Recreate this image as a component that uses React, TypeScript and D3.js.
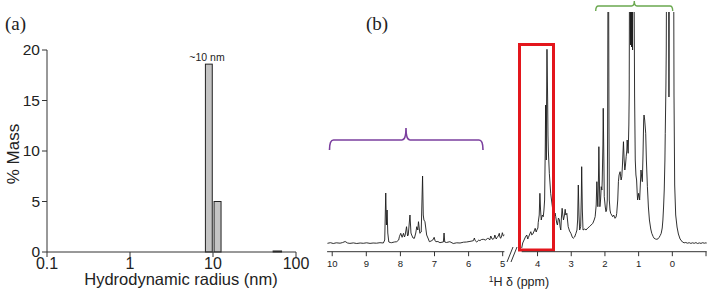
import React from "react";
import * as d3 from "d3";

// ---------- Panel (a): DLS histogram ----------
const binStart = [8.1, 10.3, 53];
const binEnd = [9.8, 12.5, 67];
const massPct = [18.6, 5.0, 0.1];
const massTicks = [0, 5, 10, 15, 20];
const radiusTicks = [0.1, 1, 10, 100];
const radiusTickLabels = ["0.1", "1", "10", "100"];

// ---------- Panel (b): 1H NMR spectrum ----------
const leftPpm = [
  10.14, 10.05, 9.97, 9.88, 9.77, 9.7, 9.62, 9.55, 9.48, 9.38, 9.28, 9.18, 9.09, 8.99, 8.89, 8.8, 8.7, 8.6, 8.5,
  8.46, 8.43, 8.41, 8.39, 8.37, 8.34, 8.3, 8.26, 8.18, 8.11, 8.05, 8.03, 7.99, 7.95, 7.91, 7.88, 7.86, 7.82,
  7.79, 7.77, 7.72, 7.69, 7.67, 7.63, 7.59, 7.55, 7.52, 7.49, 7.47, 7.43, 7.39, 7.35, 7.33, 7.31, 7.28, 7.23,
  7.18, 7.15, 7.1, 7.05, 7.01, 6.98, 6.96, 6.9, 6.84, 6.78, 6.74, 6.72, 6.7, 6.65, 6.55, 6.45, 6.35, 6.25,
  6.15, 6.06, 5.96, 5.86, 5.83, 5.81, 5.76, 5.7, 5.67, 5.62, 5.57, 5.5, 5.45, 5.42, 5.38, 5.35, 5.31, 5.28,
  5.25, 5.23, 5.19, 5.16, 5.13, 5.1, 5.08, 5.06, 5.03, 5.01, 4.98, 4.95,
];
const leftIntensity = [
  1.7, 2.3, 1.5, 2.2, 1.8, 2.4, 3.5, 2.0, 1.6, 2.1, 1.5, 2.0, 1.7, 2.2, 1.6, 2.0, 1.8, 2.3, 2.0,
  5, 52, 20, 35, 12, 3, 2.5, 2.3, 3, 3.3, 5, 8.3, 11.7, 7.7, 11.7, 8, 10, 18.3,
  9, 10, 30, 12, 10, 7, 6.7, 12, 18.3, 15, 23.3, 11.7, 13, 69, 30, 25, 23.3, 10,
  6, 3.3, 4, 5, 7.7, 4, 3.3, 3.5, 2.3, 2.8, 3, 12, 3, 2.5, 3.3, 1.5, 2.2, 2.0,
  2.8, 3.0, 3.6, 4.3, 7, 4.5, 3.0, 5, 4.3, 5.5, 5.7, 5.0, 6.5, 6.7, 5, 9, 6, 5.7,
  7, 10, 6, 7.7, 9, 11.7, 8, 6.7, 9, 12.3, 9, 10,
];
const rightPpm = [
  4.47, 4.44, 4.4, 4.36, 4.32, 4.29, 4.27, 4.23, 4.2, 4.17, 4.14, 4.1, 4.07, 4.04, 4.02, 3.99, 3.98, 3.95,
  3.93, 3.91, 3.89, 3.86, 3.83, 3.81, 3.79, 3.77, 3.76, 3.75, 3.74, 3.73, 3.72, 3.71, 3.7, 3.69, 3.68, 3.65,
  3.61, 3.56, 3.53, 3.51, 3.48, 3.46, 3.43, 3.41, 3.38, 3.35, 3.33, 3.31, 3.29, 3.27, 3.25, 3.23, 3.2, 3.18,
  3.16, 3.13, 3.11, 3.09, 3.05, 3.01, 2.97, 2.94, 2.9, 2.86, 2.83, 2.81, 2.79, 2.77, 2.75, 2.72, 2.7, 2.69,
  2.67, 2.65, 2.6, 2.56, 2.51, 2.46, 2.41, 2.36, 2.32, 2.29, 2.26, 2.24, 2.22, 2.21, 2.19, 2.18, 2.16, 2.15,
  2.13, 2.11, 2.09, 2.08, 2.06, 2.05, 2.03, 2.02, 1.99, 1.97, 1.95, 1.93, 1.92, 1.9, 1.88, 1.87, 1.85, 1.83,
  1.8, 1.77, 1.74, 1.7, 1.67, 1.65, 1.62, 1.6, 1.58, 1.55, 1.52, 1.5, 1.48, 1.45, 1.43, 1.41, 1.39, 1.37,
  1.35, 1.34, 1.32, 1.31, 1.29, 1.28, 1.26, 1.24, 1.23, 1.21, 1.2, 1.18, 1.16, 1.14, 1.12, 1.1, 1.08, 1.06,
  1.04, 1.03, 1.0, 0.97, 0.95, 0.93, 0.91, 0.89, 0.87, 0.85, 0.84, 0.82, 0.79, 0.77, 0.74, 0.71, 0.68, 0.64,
  0.61, 0.57, 0.54, 0.5, 0.46, 0.42, 0.39, 0.36, 0.33, 0.3, 0.28, 0.26, 0.24, 0.22, 0.21, 0.19, 0.18, 0.16,
  0.12, 0.1, 0.08, 0.04, 0.0, -0.03, -0.05, -0.07, -0.1, -0.14, -0.18, -0.23, -0.3, -0.35, -0.4, -0.45, -0.5,
  -0.55, -0.6, -0.65, -0.7, -0.75, -0.8, -0.85, -0.9, -0.95, -1.0, -1.02,
];
const rightIntensity = [
  -3, 2, 5, 8, 10, 6, 7.7, 11, 13.3, 10, 11, 14, 16.7, 13, 15, 17, 22.3, 30,
  51.7, 35, 25, 30, 28.3, 35, 45, 100, 140, 110, 85, 150, 195.7, 170, 145, 110, 95, 71.7,
  51.7, 38.3, 30, 25, 32, 28.3, 22, 20, 27, 25, 18, 15, 28, 36.7, 30, 25, 30, 35.7,
  30, 31.7, 25, 18.3, 14, 11.7, 8, 6.7, 8, 11.7, 15, 25, 60, 30, 15, 18.3, 50, 78.3,
  35, 15, 16, 15, 17, 18.3, 20, 21.7, 25, 28.3, 40, 63.3, 45, 38.3, 70, 98.3, 55, 38.3,
  45, 58.3, 55, 65, 100, 136.7, 80, 48.3, 38, 33.3, 35, 45, 120, 400, 120, 45, 35, 31.7,
  30, 28.3, 30, 26.7, 28, 31.7, 45, 63.3, 70, 73.3, 65, 68.3, 80, 103.3, 85, 75, 80, 88.3,
  95, 105, 95, 91.7, 120, 150, 400, 200, 400, 198, 400, 195, 400, 300, 150, 85, 70, 65,
  50, 45, 51.7, 45, 60, 75, 68, 63.3, 90, 125, 130, 125, 111.7, 85, 58.3, 38, 25, 16,
  11.7, 8.5, 6.7, 6, 5.7, 6.3, 7.7, 9.5, 11.7, 17, 25, 38, 55, 85, 111.7, 160, 195, 400,
  400, 148, 400, 400, 400, 400, 150, 60, 30, 18, 11, 6, 3, 2.2, 2.5, 1.8, 2.3,
  1.6, 2.2, 1.7, 2.4, 1.5, 2.1, 1.6, 2.3, 1.8, 2.2, 1.9,
];
const leftTicks = [10, 9, 8, 7, 6, 5];
const rightTicks = [4, 3, 2, 1, 0, -1];
const rightTickLabels = ["4", "3", "2", "1", "0", ""];

const SANS = "'Liberation Sans', Arial, Helvetica, sans-serif";
const SERIF = "'Liberation Serif', 'Times New Roman', serif";

export default function App() {
  // Panel (a) scales
  const xA = d3.scaleLog().domain([0.1, 100]).range([47, 296]);
  const yA = d3.scaleLinear().domain([0, 20]).range([252, 50]);

  // Panel (b) scales
  const xL = d3.scaleLinear().domain([10.15, 4.95]).range([327.1, 504.4]);
  const xR = d3.scaleLinear().domain([4.47, -1.02]).range([521.7, 706.7]);
  const yS = d3.scaleLinear().domain([0, 233]).range([245, 12]);

  const leftPts: [number, number][] = leftPpm.map((p, i) => [p, leftIntensity[i]]);
  const rightPts: [number, number][] = rightPpm.map((p, i) => [p, rightIntensity[i]]);
  const lineL = d3.line<[number, number]>().x((d) => xL(d[0])).y((d) => yS(d[1]));
  const lineR = d3.line<[number, number]>().x((d) => xR(d[0])).y((d) => yS(d[1]));

  const axisY = 251.7;
  const textCol = "#222";
  const axisCol = "#333";

  return (
    <svg width={709} height={295} style={{ position: "absolute", left: 0, top: 0, background: "#fff" }}>
      <defs>
        <clipPath id="clipL">
          <rect x={324} y={12} width={184} height={240} />
        </clipPath>
        <clipPath id="clipR">
          <rect x={518} y={12} width={191} height={240} />
        </clipPath>
      </defs>

      {/* ================= Panel (a) ================= */}
      <text x={5} y={30} fontFamily={SERIF} fontSize={19} fill={textCol}>(a)</text>

      {binStart.map((s, i) => (
        <rect
          key={i}
          x={xA(s)}
          y={yA(massPct[i])}
          width={xA(binEnd[i]) - xA(s)}
          height={Math.max(yA(0) - yA(massPct[i]), 0.8)}
          fill="#c4c4c4"
          stroke="#222"
          strokeWidth={1}
        />
      ))}
      <text x={207} y={61} textAnchor="middle" fontFamily={SANS} fontSize={10.5} fill={textCol}>~10 nm</text>

      <line x1={47} x2={47} y1={yA(20)} y2={yA(0)} stroke={axisCol} strokeWidth={1} />
      <line x1={47} x2={296} y1={yA(0)} y2={yA(0)} stroke={axisCol} strokeWidth={1} />
      {massTicks.map((t) => (
        <g key={t}>
          <line x1={42} x2={47} y1={yA(t)} y2={yA(t)} stroke={axisCol} />
          <text x={40} y={yA(t)} dy="0.34em" textAnchor="end" fontFamily={SANS} fontSize={15.5} fill={textCol}>
            {t}
          </text>
        </g>
      ))}
      {radiusTicks.map((t, i) => (
        <g key={t}>
          <line x1={xA(t)} x2={xA(t)} y1={yA(0)} y2={yA(0) + 5} stroke={axisCol} />
          <text x={xA(t)} y={268.5} textAnchor="middle" fontFamily={SANS} fontSize={16} fill={textCol}>
            {radiusTickLabels[i]}
          </text>
        </g>
      ))}
      <text x={181} y={285} textAnchor="middle" fontFamily={SANS} fontSize={16.5} fill={textCol}>
        Hydrodynamic radius (nm)
      </text>
      <text
        transform="translate(18.5,154) rotate(-90)"
        textAnchor="middle"
        fontFamily={SANS}
        fontSize={17}
        fill={textCol}
      >
        % Mass
      </text>

      {/* ================= Panel (b) ================= */}
      <text x={366} y={30} fontFamily={SERIF} fontSize={19} fill={textCol}>(b)</text>

      {/* brackets */}
      <path
        d="M329.5,150 Q329.5,140 333.5,140 L402,140 Q406,140 406,128 Q406,140 410,140 L479,140 Q483,140 483,150"
        fill="none"
        stroke="#7b3f9e"
        strokeWidth={1.6}
      />
      <path
        d="M595.7,11 Q595.7,6 598.5,6 L631.5,6 Q634.3,6 634.3,1 Q634.3,6 637,6 L670,6 Q672.7,6 672.7,11"
        fill="none"
        stroke="#6aa84f"
        strokeWidth={1.4}
      />

      {/* spectrum */}
      <path d={lineL(leftPts) || ""} fill="none" stroke="#1a1a1a" strokeWidth={0.9} clipPath="url(#clipL)" />
      <path d={lineR(rightPts) || ""} fill="none" stroke="#1a1a1a" strokeWidth={0.9} clipPath="url(#clipR)" />

      {/* highlight box */}
      <rect x={519.5} y={44.5} width={34} height={205.5} fill="none" stroke="#e3161c" strokeWidth={3} />

      {/* axes */}
      <line x1={xL(10.15)} x2={xL(4.95)} y1={axisY} y2={axisY} stroke={axisCol} strokeWidth={1} />
      <line x1={xR(4.47)} x2={xR(-1.02)} y1={axisY} y2={axisY} stroke={axisCol} strokeWidth={1} />
      {leftTicks.map((t) => (
        <g key={"l" + t}>
          <line x1={xL(t)} x2={xL(t)} y1={axisY} y2={axisY + 4.5} stroke={axisCol} />
          <text x={xL(t)} y={267.3} textAnchor="middle" fontFamily={SANS} fontSize={9.5} fill={textCol}>
            {t}
          </text>
        </g>
      ))}
      {rightTicks.map((t, i) => (
        <g key={"r" + t}>
          <line x1={xR(t)} x2={xR(t)} y1={axisY} y2={axisY + 4.5} stroke={axisCol} />
          <text x={xR(t)} y={267.3} textAnchor="middle" fontFamily={SANS} fontSize={9.5} fill={textCol}>
            {rightTickLabels[i]}
          </text>
        </g>
      ))}
      {/* axis break marks */}
      <line x1={507} y1={262} x2={513} y2={247} stroke={axisCol} strokeWidth={1} />
      <line x1={511} y1={262} x2={517} y2={247} stroke={axisCol} strokeWidth={1} />

      <text x={519} y={286} textAnchor="middle" fontFamily={SANS} fontSize={12.5} fill={textCol}>
        <tspan fontSize={8.5} dy={-4.5}>1</tspan>
        <tspan dy={4.5}>H δ (ppm)</tspan>
      </text>
    </svg>
  );
}
